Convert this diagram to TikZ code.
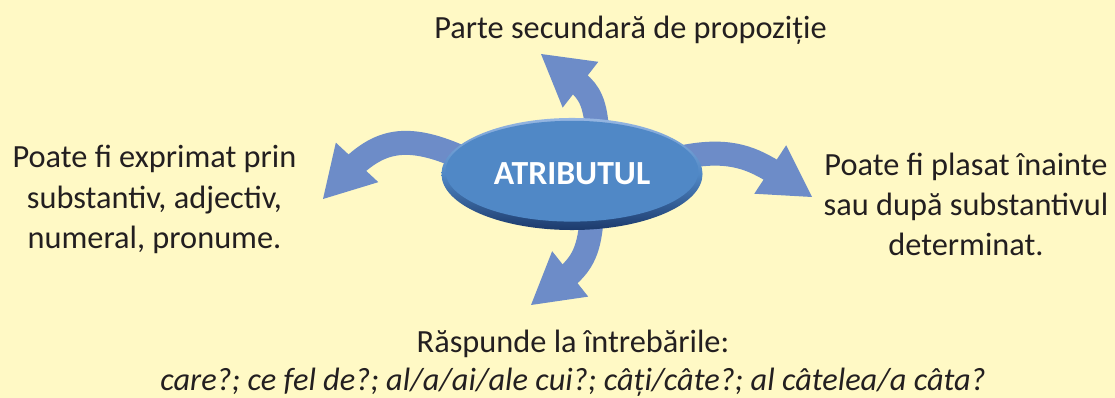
\documentclass[tikz,border=0pt]{standalone}
\usepackage{fontspec}
\setmainfont{Carlito}
\usetikzlibrary{arrows.meta, bending, shapes.geometric}

\definecolor{bgyellow}{RGB}{255,249,197}
\definecolor{arrowblue}{RGB}{109,140,200}
\definecolor{atrblue}{RGB}{80,136,198}
\definecolor{atrlight}{RGB}{150,182,226}
\definecolor{atrdark}{RGB}{28,58,108}
\definecolor{txtgray}{RGB}{35,31,32}

\pgfdeclarelayer{back}
\pgfdeclarelayer{behind}
\pgfsetlayers{back,behind,main}

\begin{document}
\begin{tikzpicture}[
  x=0.025cm, y=0.025cm,
  every node/.style={font=\fontsize{23}{28.5}\selectfont, text=txtgray},
  txt/.style={align=center, inner sep=0pt},
  atrnode/.style={ellipse, minimum width=6.525cm, minimum height=2.8cm, inner sep=0pt,
    top color=atrlight, bottom color=atrdark, middle color=atrblue,
    path picture={\fill[atrblue] ([yshift=0.07cm]path picture bounding box.center)
      ellipse [x radius=3.16cm, y radius=1.26cm];},
    text=white, font=\fontsize{24}{28}\selectfont\bfseries},
  curved/.style={draw=arrowblue, line width=0.6cm, shorten <=-0.4cm,
    -{Triangle[width=1.45cm, length=1.25cm, line width=0pt, flex'=1]}}
]
  \useasboundingbox (0,0) rectangle (1115,-398);
  \begin{pgfonlayer}{back}
    \fill[bgyellow] (0,0) rectangle (1115,-398);
  \end{pgfonlayer}

  \node[atrnode] (atr) at (572,-174) {ATRIBUTUL};

  \node[txt, anchor=base] (parte) at (630.5,-39) {Parte secundară de propoziție};
  \node[txt] (expr) at (154.5,-199.5) {Poate fi exprimat prin\\substantiv, adjectiv,\\numeral, pronume.};
  \node[txt] (plasat) at (966,-204.5) {Poate fi plasat înainte\\sau după substantivul\\determinat.};
  \node[txt, anchor=base] (intreb) at (573,-353) {Răspunde la întrebările:};
  \node[txt, anchor=base, font=\fontsize{23}{28.5}\selectfont\itshape] (cazuri) at (573,-390.5)
    {care?; ce fel de?; al/a/ai/ale cui?; câți/câte?; al câtelea/a câta?};

  % arrow tips
  \coordinate (ptop) at (541,-54);
  \coordinate (pleft) at (323,-199);
  \coordinate (pright) at (812,-197);
  \coordinate (pbottom) at (531,-305);

  \begin{pgfonlayer}{behind}
    \draw[curved] (atr.66) to[out=92, in=-43] (ptop);
    \draw[curved] (atr.170) to[out=155, in=50, looseness=1.2] (pleft);
    \draw[curved] (atr.9) to[out=12, in=147] (pright);
    \draw[curved] (atr.289) to[out=-92, in=40] (pbottom);
  \end{pgfonlayer}
\end{tikzpicture}
\end{document}
